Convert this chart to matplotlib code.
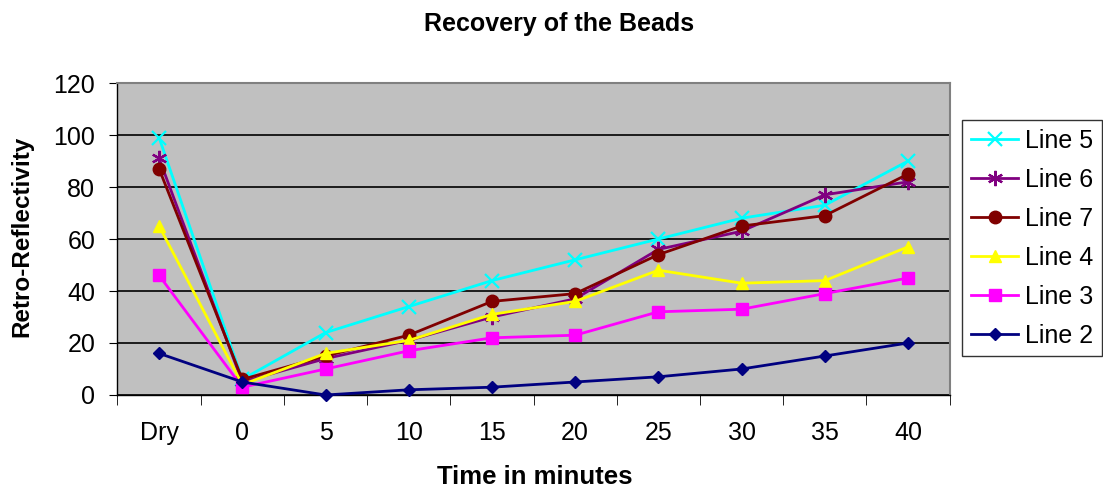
import matplotlib
matplotlib.use('Agg')
from matplotlib import pyplot as plt
import numpy as np

plt.rcParams['font.family'] = ['Liberation Sans', 'DejaVu Sans']

times = ['Dry', '0', '5', '10', '15', '20', '25', '30', '35', '40']
line5 = [99, 6, 24, 34, 44, 52, 60, 68, 73, 90]
line6 = [91, 5, 14, 21, 30, 37, 56, 63, 77, 82]
line7 = [87, 6, 15, 23, 36, 39, 54, 65, 69, 85]
line4 = [65, 4, 16, 21, 31, 36, 48, 43, 44, 57]
line3 = [46, 3, 10, 17, 22, 23, 32, 33, 39, 45]
line2 = [16, 5, 0, 2, 3, 5, 7, 10, 15, 20]

x = np.arange(len(times))

fig = plt.figure(figsize=(11.03, 4.93), dpi=100)
ax = fig.add_axes([0.1065, 0.1988, 0.7545, 0.6328])
ax.set_facecolor('#C0C0C0')

series = [
    ('Line 5', line5, '#00FFFF', 'x', 10),
    ('Line 6', line6, '#800080', (6, 2, 0), 11),
    ('Line 7', line7, '#800000', 'o', 9),
    ('Line 4', line4, '#FFFF00', '^', 9),
    ('Line 3', line3, '#FF00FF', 's', 8),
    ('Line 2', line2, '#000080', 'D', 6.5),
]
for label, vals, color, marker, ms in series:
    ax.plot(x, vals, color=color, marker=marker, markersize=ms, lw=2,
            markeredgewidth=1.6 if marker in ('x', (6, 2, 0)) else 1,
            markeredgecolor=color, label=label, clip_on=False, zorder=3)

ax.set_xlim(-0.5, 9.5)
ax.set_ylim(0, 120)
ax.set_yticks(range(0, 121, 20))
ax.yaxis.grid(True, color='black', lw=1.2)
ax.set_axisbelow(True)
ax.set_xticks(x)
ax.set_xticklabels(times)
ax.set_xticks(np.arange(-0.5, 10, 1), minor=True)
ax.tick_params(axis='x', which='major', length=0, pad=19, labelsize=18)
ax.tick_params(axis='x', which='minor', length=7, direction='out', color='black')
ax.tick_params(axis='y', length=6, direction='out', labelsize=18, pad=10)

for side in ('top', 'right'):
    ax.spines[side].set_color('#808080')
    ax.spines[side].set_linewidth(1.5)
for side in ('left', 'bottom'):
    ax.spines[side].set_color('black')
    ax.spines[side].set_linewidth(1)

ax.set_xlabel('Time in minutes', fontsize=18.5, fontweight='bold')
ax.xaxis.label.set_va('center')
ax.xaxis.set_label_coords(0.5015, -0.262)
ax.set_ylabel('Retro-Reflectivity', fontsize=17.5, fontweight='bold')
ax.yaxis.label.set_va('center')
ax.yaxis.set_label_coords(-0.1147, 0.51)
fig.text(0.507, 0.952, 'Recovery of the Beads', fontsize=18, fontweight='bold',
         ha='center', va='center')

leg = ax.legend(loc='upper left', bbox_to_anchor=(0.8722, 0.757),
                bbox_transform=fig.transFigure, fontsize=18, frameon=True,
                fancybox=False, edgecolor='black', borderpad=0.35,
                labelspacing=0.6, handlelength=1.9, handletextpad=0.25,
                borderaxespad=0)
leg.get_frame().set_linewidth(1)

plt.savefig('out.png', dpi=100)
